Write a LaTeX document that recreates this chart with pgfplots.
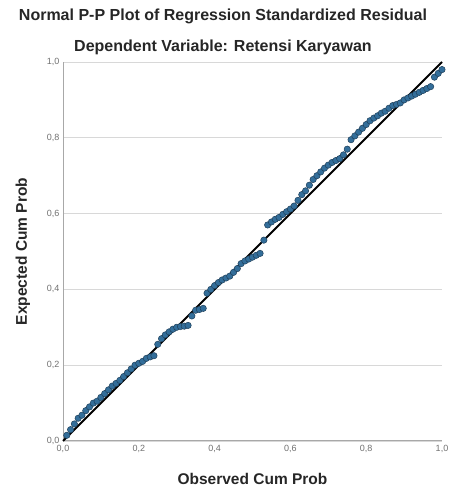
\documentclass[border=0pt]{standalone}
\usepackage{pgfplots}
\pgfplotsset{compat=1.18}
\usepackage{fontspec}
\setmainfont{Liberation Sans}
\definecolor{ptfill}{HTML}{336E9A}
\definecolor{ptedge}{HTML}{1E3F5A}
\definecolor{gridc}{HTML}{D8D8D8}
\definecolor{axc}{HTML}{A8A8A8}
\definecolor{tickc}{HTML}{707070}
\begin{document}
\begin{tikzpicture}
\useasboundingbox (0,0) rectangle (448pt,493pt);
\node[font=\fontsize{16}{18}\selectfont\bfseries, text=black!85] at (223pt,477pt) {Normal P-P Plot of Regression Standardized Residual};
\node[font=\fontsize{16}{18}\selectfont\bfseries, text=black!85] at (223pt,446pt) {Dependent Variable: Retensi Karyawan};
\begin{axis}[
  at={(63pt,52pt)}, anchor=south west,
  scale only axis, width=379pt, height=379pt,
  xmin=0, xmax=1, ymin=0, ymax=1,
  axis x line=bottom, axis y line=left,
  axis line style={draw=axc, line width=1pt, -},
  xtick={0,0.2,0.4,0.6,0.8,1.0},
  ytick={0,0.2,0.4,0.6,0.8,1.0},
  ymajorgrids, grid style={draw=gridc, line width=0.9pt},
  major tick length=0pt,
  tick label style={font=\fontsize{9}{10}\selectfont, text=tickc},
  /pgf/number format/assume math mode=true,
  /pgf/number format/.cd, fixed, fixed zerofill, precision=1, use comma,
  /pgfplots/.cd,
  xticklabel style={yshift=-1pt},
  xlabel={\bfseries Observed Cum Prob},
  ylabel={\bfseries Expected Cum Prob},
  label style={font=\fontsize{15.5}{17}\selectfont, text=black!85},
  xlabel style={yshift=-13pt},
  ylabel style={yshift=10pt},
  clip=false,
]
\addplot[only marks, mark=*, mark size=3.2pt, mark options={fill=ptfill, draw=ptedge, line width=0.5pt}] coordinates {
(0.01,0.015) (0.02,0.03) (0.03,0.045) (0.04,0.06) (0.05,0.068)
(0.06,0.08) (0.07,0.09) (0.08,0.10) (0.09,0.105) (0.10,0.115)
(0.11,0.125) (0.12,0.135) (0.13,0.145) (0.14,0.152) (0.15,0.16)
(0.16,0.17) (0.17,0.18) (0.18,0.19) (0.19,0.20) (0.20,0.205)
(0.21,0.21) (0.22,0.218) (0.23,0.222) (0.24,0.225) (0.25,0.255)
(0.26,0.27) (0.27,0.28) (0.28,0.288) (0.29,0.295) (0.30,0.30)
(0.31,0.302) (0.32,0.303) (0.33,0.305) (0.34,0.33) (0.35,0.345)
(0.36,0.347) (0.37,0.35) (0.38,0.39) (0.39,0.40) (0.40,0.41)
(0.41,0.418) (0.42,0.425) (0.43,0.43) (0.44,0.435) (0.45,0.445)
(0.46,0.455) (0.47,0.468) (0.48,0.475) (0.49,0.48) (0.50,0.485)
(0.51,0.49) (0.52,0.495) (0.53,0.53) (0.54,0.57) (0.55,0.578)
(0.56,0.585) (0.57,0.59) (0.58,0.598) (0.59,0.605) (0.60,0.612)
(0.61,0.62) (0.62,0.635) (0.63,0.65) (0.64,0.66) (0.65,0.675)
(0.66,0.69) (0.67,0.70) (0.68,0.71) (0.69,0.72) (0.70,0.728)
(0.71,0.735) (0.72,0.74) (0.73,0.745) (0.74,0.755) (0.75,0.77)
(0.76,0.795) (0.77,0.805) (0.78,0.815) (0.79,0.825) (0.80,0.835)
(0.81,0.845) (0.82,0.852) (0.83,0.858) (0.84,0.865) (0.85,0.87)
(0.86,0.878) (0.87,0.885) (0.88,0.888) (0.89,0.892) (0.90,0.90)
(0.91,0.905) (0.92,0.91) (0.93,0.915) (0.94,0.92) (0.95,0.925)
(0.96,0.93) (0.97,0.935) (0.98,0.96) (0.99,0.97) (1.00,0.98)
};
\addplot[black, line width=2pt] coordinates {(0,0) (1,1)};
\end{axis}
\end{tikzpicture}
\end{document}
